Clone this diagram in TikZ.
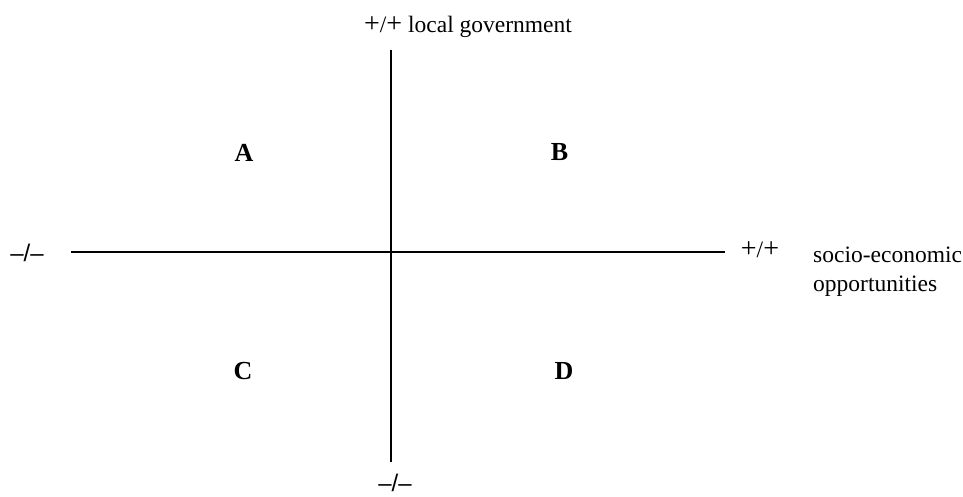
\documentclass[tikz,border=0pt]{standalone}
\usepackage{fontspec}
\setmainfont{Liberation Serif}
\newfontfamily\dashfont{Liberation Sans}
\newcommand{\bigplus}{{\fontsize{28}{28}\selectfont +}}
\begin{document}
\begin{tikzpicture}[x=1pt,y=-1pt,
  axis/.style={line width=2pt,black},
  lbl/.style={inner sep=0pt,font=\fontsize{23.5}{29}\selectfont},
  quad/.style={inner sep=0pt,font=\fontsize{26}{30}\selectfont\bfseries},
  neg/.style={inner sep=0pt,font=\dashfont\fontsize{24}{28}\selectfont}]
\useasboundingbox (0,0) rectangle (963,497);
\coordinate (hl) at (71,252);
\coordinate (hr) at (725,252);
\coordinate (vt) at (391,50);
\coordinate (vb) at (391,462);
\draw[axis] (hl) -- (hr);
\draw[axis] (vt) -- (vb);
\node[lbl,anchor=base] (top) at (468,33) {\bigplus/\bigplus{} local government};
\node[neg] (left) at (27,253) {–/–};
\node[neg] (bottom) at (395,483) {–/–};
\node[lbl] (right) at (760,250) {\bigplus/\bigplus};
\node[lbl,anchor=west,align=left] (soc) at (813,272) {socio-economic\\opportunities};
\node[quad] (A) at (244,153) {A};
\node[quad] (B) at (559.5,152) {B};
\node[quad] (C) at (243,371.5) {C};
\node[quad] (D) at (564,371.5) {D};
\end{tikzpicture}
\end{document}
